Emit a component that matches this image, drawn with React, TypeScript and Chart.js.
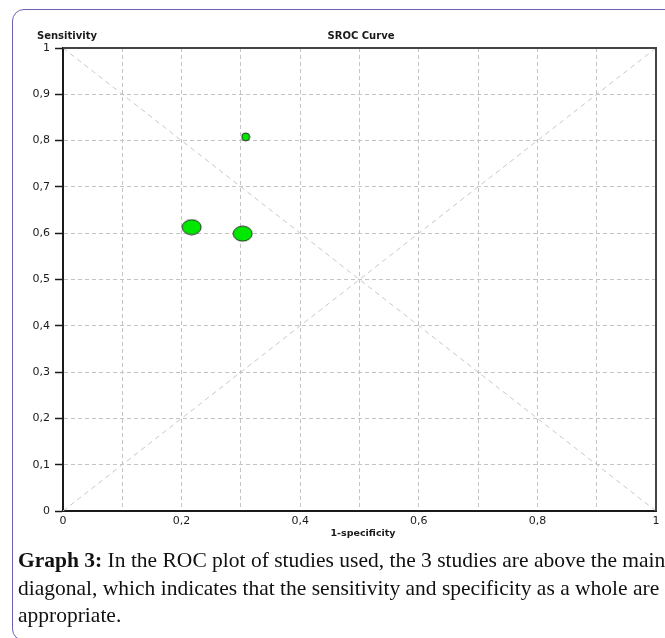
import React, { useEffect, useRef } from 'react';
import { Chart, registerables } from 'chart.js';

Chart.register(...registerables);

// ---- data ----
const studyNames = ['Study 1', 'Study 2', 'Study 3'];
const studyFpr = [0.308, 0.217, 0.303]; // 1-specificity
const studySens = [0.808, 0.613, 0.599]; // sensitivity
const diagonalX = [0, 1];
const diagonalY = [0, 1];
const antiDiagonalY = [1, 0];
const xTickLabels = ['0', '', '0,2', '', '0,4', '', '0,6', '', '0,8', '', '1'];
const yTickLabels = ['0', '0,1', '0,2', '0,3', '0,4', '0,5', '0,6', '0,7', '0,8', '0,9', '1'];
const chartTitle = 'SROC Curve';
const yTitle = 'Sensitivity';
const xTitle = '1-specificity';

const FONT = "'DejaVu Sans', sans-serif";

function makeEllipse(w: number, h: number): HTMLCanvasElement {
  const c = document.createElement('canvas');
  c.width = w + 2;
  c.height = h + 2;
  const ctx = c.getContext('2d')!;
  ctx.beginPath();
  ctx.ellipse(c.width / 2, c.height / 2, w / 2, h / 2, 0, 0, Math.PI * 2);
  ctx.fillStyle = '#00e800';
  ctx.fill();
  ctx.lineWidth = 1;
  ctx.strokeStyle = '#2a2a2a';
  ctx.stroke();
  return c;
}

const overlayPlugin = {
  id: 'overlayPlugin',
  afterDatasetsDraw(chart: any) {
    const { ctx, chartArea } = chart;
    ctx.save();
    ctx.strokeStyle = '#444';
    ctx.lineWidth = 2;
    ctx.beginPath();
    ctx.moveTo(chartArea.left, chartArea.top);
    ctx.lineTo(chartArea.right, chartArea.top);
    ctx.lineTo(chartArea.right, chartArea.bottom);
    ctx.stroke();
    ctx.restore();
  },
  afterDraw(chart: any) {
    const { ctx, chartArea } = chart;
    ctx.save();
    ctx.fillStyle = '#1a1a1a';
    ctx.textBaseline = 'alphabetic';
    ctx.font = `bold 10px ${FONT}`;
    ctx.textAlign = 'left';
    ctx.fillText(yTitle, 37, 39);
    ctx.textAlign = 'center';
    ctx.fillText(chartTitle, 361, 39);
    ctx.font = `bold 9.5px ${FONT}`;
    ctx.fillText(xTitle, 363, chartArea.bottom + 25);
    ctx.restore();
  },
};

export default function App() {
  const ref = useRef<HTMLCanvasElement>(null);

  useEffect(() => {
    if (!ref.current) return;
    const big = makeEllipse(19, 15);
    const small = makeEllipse(8, 8);
    const pointStyles = [small, big, big];

    const chart = new Chart(ref.current, {
      type: 'scatter',
      data: {
        datasets: [
          {
            label: 'Studies',
            data: studyFpr.map((x, i) => ({ x, y: studySens[i] })),
            pointStyle: pointStyles as any,
            pointRadius: 6,
            pointHoverRadius: 6,
            showLine: false,
          },
          {
            label: 'Chance',
            data: diagonalX.map((x, i) => ({ x, y: diagonalY[i] })),
            showLine: true,
            borderColor: '#c8c8c8',
            borderWidth: 1,
            borderDash: [5, 4],
            pointRadius: 0,
          },
          {
            label: 'Anti-diagonal',
            data: diagonalX.map((x, i) => ({ x, y: antiDiagonalY[i] })),
            showLine: true,
            borderColor: '#c8c8c8',
            borderWidth: 1,
            borderDash: [5, 4],
            pointRadius: 0,
          },
        ],
      },
      options: {
        animation: false,
        responsive: false,
        maintainAspectRatio: false,
        layout: { padding: { left: 0, right: 9, top: 48, bottom: 0 } },
        plugins: {
          legend: { display: false },
          tooltip: { enabled: false },
          title: { display: false },
        },
        scales: {
          x: {
            type: 'linear',
            min: 0,
            max: 1,
            afterFit: (s: any) => {
              s.height = 37;
            },
            ticks: {
              stepSize: 0.1,
              autoSkip: false,
              maxRotation: 0,
              padding: 4,
              color: '#1a1a1a',
              font: { family: FONT, size: 11 },
              callback: (_v: any, i: number) => xTickLabels[i] ?? '',
            },
            grid: {
              color: '#c4c4c4',
              lineWidth: 1,
              drawTicks: false,
              tickLength: 0,
            },
            border: { display: true, color: '#1a1a1a', width: 2, dash: [4, 3] },
          },
          y: {
            type: 'linear',
            min: 0,
            max: 1,
            afterFit: (s: any) => {
              s.width = 63;
            },
            ticks: {
              stepSize: 0.1,
              autoSkip: false,
              padding: 5,
              color: '#1a1a1a',
              font: { family: FONT, size: 11 },
              callback: (_v: any, i: number) => yTickLabels[i] ?? '',
            },
            grid: {
              color: '#c4c4c4',
              lineWidth: 1,
              drawTicks: true,
              tickLength: 8,
              tickColor: '#1a1a1a',
              tickWidth: 1.5,
              tickBorderDash: [],
            },
            border: { display: true, color: '#1a1a1a', width: 2, dash: [4, 3] },
          },
        },
      },
      plugins: [overlayPlugin],
    });
    return () => chart.destroy();
  }, []);

  return (
    <div
      style={{
        position: 'fixed',
        left: 0,
        top: 0,
        width: 665,
        height: 638,
        overflow: 'hidden',
        background: '#fff',
      }}
    >
      <div
        style={{
          position: 'absolute',
          left: 12,
          top: 9,
          width: 800,
          height: 630,
          border: '1.5px solid #6a62b0',
          borderRadius: 12,
        }}
      />
      <canvas
        ref={ref}
        width={665}
        height={548}
        style={{ position: 'absolute', left: 0, top: 0, width: 665, height: 548 }}
      />
      <div
        style={{
          position: 'absolute',
          left: 18,
          top: 547,
          fontFamily: "'Liberation Serif', 'Times New Roman', serif",
          fontSize: 21.5,
          lineHeight: '27.5px',
          whiteSpace: 'nowrap',
          color: '#111',
        }}
      >
        <b>Graph 3:</b> In the ROC plot of studies used, the 3 studies are above the main
        <br />
        diagonal, which indicates that the sensitivity and specificity as a whole are
        <br />
        appropriate.
      </div>
    </div>
  );
}
